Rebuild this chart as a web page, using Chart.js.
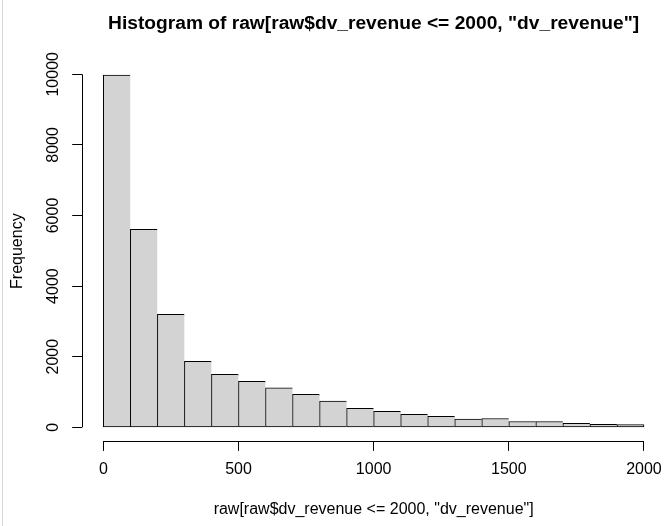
<!DOCTYPE html>
<html>
<head>
<meta charset="utf-8">
<script src="https://cdn.jsdelivr.net/npm/chart.js@4"></script>
<style>
  body { margin: 0; background: #fff; }
  #wrap { position: relative; width: 668px; height: 526px; }
  #edge { position: absolute; left: 2px; top: 0; width: 1px; height: 526px; background: #d6d9de; }
</style>
</head>
<body>
<div id="wrap">
  <canvas id="histChart" width="668" height="526"></canvas>
  <div id="edge"></div>
</div>
<script>
// histogram bins (dv_revenue <= 2000), width 100
const breaks = [0,100,200,300,400,500,600,700,800,900,1000,1100,1200,1300,1400,1500,1600,1700,1800,1900,2000];
const counts = [9980,5610,3200,1870,1500,1300,1120,935,740,540,450,370,310,230,250,165,165,112,82,80];
const xTicks = [0,500,1000,1500,2000];
const yTicks = [0,2000,4000,6000,8000,10000];

const FONT = '"Liberation Sans", Arial, sans-serif';
Chart.defaults.font.family = FONT;
Chart.defaults.color = '#000';

const bins = counts.map((c, i) => ({ x: (breaks[i] + breaks[i + 1]) / 2, y: c }));
const last = counts.length - 1;

// R style axes: lines only span the first..last tick, y labels rotated
const rAxes = {
  id: 'rAxes',
  afterDraw(chart) {
    const { ctx, chartArea, scales: { x, y } } = chart;
    ctx.save();
    ctx.strokeStyle = '#000';
    ctx.lineWidth = 1;
    ctx.beginPath();
    const yb = Math.round(chartArea.bottom) + 0.5;
    ctx.moveTo(x.getPixelForValue(xTicks[0]), yb);
    ctx.lineTo(x.getPixelForValue(xTicks[xTicks.length - 1]), yb);
    const xl = Math.round(chartArea.left) + 0.5;
    ctx.moveTo(xl, y.getPixelForValue(yTicks[0]));
    ctx.lineTo(xl, y.getPixelForValue(yTicks[yTicks.length - 1]));
    ctx.stroke();

    ctx.font = '16px ' + FONT;
    ctx.fillStyle = '#000';
    ctx.textAlign = 'center';
    ctx.textBaseline = 'middle';
    yTicks.forEach(v => {
      ctx.save();
      ctx.translate(54, y.getPixelForValue(v));
      ctx.rotate(-Math.PI / 2);
      ctx.fillText(String(v), 0, 0);
      ctx.restore();
    });
    ctx.restore();
  }
};

new Chart(document.getElementById('histChart'), {
  type: 'bar',
  data: {
    datasets: [{
      data: bins,
      backgroundColor: '#d3d3d3',
      borderColor: '#000',
      borderSkipped: false,
      borderWidth: ctx => ({ top: 1, left: 1, bottom: 1, right: ctx.dataIndex === last ? 1 : 0 }),
      barPercentage: 1,
      categoryPercentage: 1
    }]
  },
  options: {
    responsive: false,
    animation: false,
    layout: { padding: { left: 0, right: 2.4, top: 0, bottom: 0 } },
    plugins: {
      legend: { display: false },
      tooltip: { enabled: false },
      title: {
        display: true,
        fullSize: false,
        text: 'Histogram of raw[raw$dv_revenue <= 2000, "dv_revenue"]',
        font: { size: 19.2, weight: 'bold' },
        color: '#000',
        padding: { top: 12.5, bottom: 25.4 }
      }
    },
    scales: {
      x: {
        type: 'linear',
        min: -80,
        max: 2080,
        offset: false,
        afterBuildTicks: s => { s.ticks = xTicks.map(v => ({ value: v })); },
        afterFit: s => { s.height = 84.6; s.paddingLeft = 0; s.paddingRight = 0; },
        border: { display: false },
        grid: { display: true, offset: false, drawOnChartArea: false, drawTicks: true, tickLength: 9.5, color: '#000' },
        ticks: { font: { size: 16 }, color: '#000', padding: 9, maxRotation: 0, callback: v => String(v) },
        title: {
          display: true,
          text: 'raw[raw$dv_revenue <= 2000, "dv_revenue"]',
          font: { size: 16 },
          color: '#000',
          padding: { top: 0, bottom: 7 }
        }
      },
      y: {
        min: -399,
        max: 10379,
        afterBuildTicks: s => { s.ticks = yTicks.map(v => ({ value: v })); },
        afterFit: s => { s.width = 81.7; s.paddingTop = 0; s.paddingBottom = 0; },
        border: { display: false },
        grid: { display: true, drawOnChartArea: false, drawTicks: true, tickLength: 9.5, color: '#000' },
        ticks: { display: false },
        title: {
          display: true,
          text: 'Frequency',
          font: { size: 16 },
          color: '#000',
          padding: { top: 8, bottom: 0 }
        }
      }
    }
  },
  plugins: [rAxes]
});
</script>
</body>
</html>
